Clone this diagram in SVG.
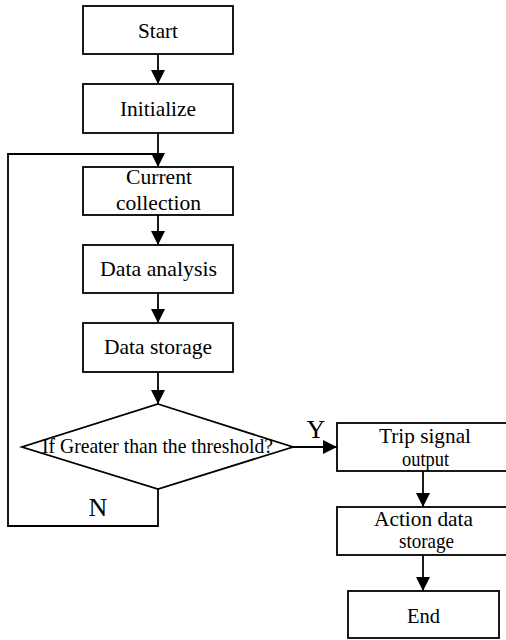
<svg xmlns="http://www.w3.org/2000/svg" width="506" height="640" viewBox="0 0 506 640">
<style>
.box{fill:#fff;stroke:#000;stroke-width:1.8}
.ln{fill:none;stroke:#000;stroke-width:1.8}
text{font-family:"Liberation Serif","Times New Roman",serif;font-size:21.5px;fill:#000;text-anchor:middle}
.lbl{font-size:26px}
</style>
<defs>
<marker id="ah" markerUnits="userSpaceOnUse" markerWidth="14" markerHeight="14" viewBox="0 0 14 14" refX="14" refY="7" orient="auto">
<path d="M0,0 L14,7 L0,14 Z" fill="#000"/>
</marker>
</defs>
<rect width="506" height="640" fill="#fff"/>
<g id="connectors">
<line class="ln" x1="158" y1="54" x2="158" y2="84" marker-end="url(#ah)"/>
<line class="ln" x1="158" y1="133" x2="158" y2="167" marker-end="url(#ah)"/>
<line class="ln" x1="158" y1="215" x2="158" y2="245" marker-end="url(#ah)"/>
<line class="ln" x1="158" y1="293" x2="158" y2="323" marker-end="url(#ah)"/>
<line class="ln" x1="158" y1="372" x2="158" y2="404" marker-end="url(#ah)"/>
<line class="ln" x1="293" y1="447" x2="337" y2="447" marker-end="url(#ah)"/>
<line class="ln" x1="423" y1="471" x2="423" y2="507" marker-end="url(#ah)"/>
<line class="ln" x1="423" y1="555" x2="423" y2="591" marker-end="url(#ah)"/>
<polyline class="ln" points="158,489 158,526 8,526 8,154 158,154"/>
<text class="lbl" x="316" y="438">Y</text>
<text class="lbl" x="98" y="516">N</text>
</g>
<g id="start"><rect class="box" x="83" y="6" width="150" height="48"/><text x="158" y="38" textLength="40" lengthAdjust="spacingAndGlyphs">Start</text></g>
<g id="initialize"><rect class="box" x="83" y="84" width="150" height="49"/><text x="158" y="116" textLength="76" lengthAdjust="spacingAndGlyphs">Initialize</text></g>
<g id="current"><rect class="box" x="83" y="167" width="150" height="48"/><text x="159" y="184" textLength="66" lengthAdjust="spacingAndGlyphs">Current</text><text x="158.5" y="210" textLength="85" lengthAdjust="spacingAndGlyphs">collection</text></g>
<g id="analysis"><rect class="box" x="83" y="245" width="150" height="48"/><text x="158.5" y="276" textLength="117" lengthAdjust="spacingAndGlyphs">Data analysis</text></g>
<g id="storage"><rect class="box" x="83" y="323" width="150" height="49"/><text x="158" y="354" textLength="108" lengthAdjust="spacingAndGlyphs">Data storage</text></g>
<g id="decision"><polygon class="box" points="158,404 293,447 158,489 22,447"/><text x="157.5" y="453" textLength="231" lengthAdjust="spacingAndGlyphs">If Greater than the threshold?</text></g>
<g id="trip"><rect class="box" x="337" y="423" width="172" height="48"/><text x="425" y="443" textLength="92" lengthAdjust="spacingAndGlyphs">Trip signal</text><text x="425.5" y="466" textLength="47" lengthAdjust="spacingAndGlyphs">output</text></g>
<g id="action"><rect class="box" x="337" y="507" width="172" height="48"/><text x="423.5" y="526" textLength="99" lengthAdjust="spacingAndGlyphs">Action data</text><text x="426.5" y="548" textLength="55" lengthAdjust="spacingAndGlyphs">storage</text></g>
<g id="end"><rect class="box" x="348" y="591" width="151" height="47"/><text x="423.5" y="623" textLength="33" lengthAdjust="spacingAndGlyphs">End</text></g>
</svg>
